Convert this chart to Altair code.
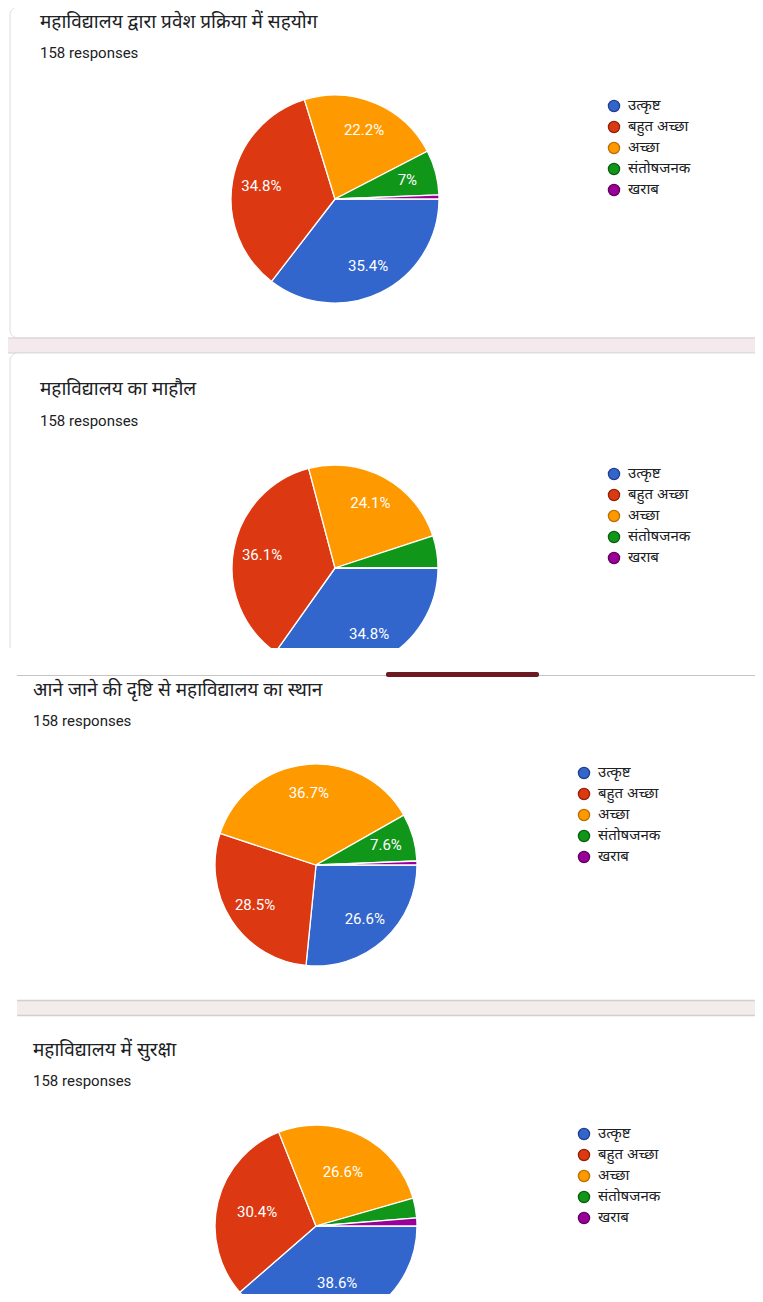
import math
import altair as alt
import pandas as pd

# ---------------- data ----------------
categories = ["उत्कृष्ट", "बहुत अच्छा", "अच्छा", "संतोषजनक", "खराब"]
colors = ["#3366cc", "#dc3912", "#ff9900", "#109618", "#990099"]
dark_colors = ["#1f3f8a", "#8f2208", "#b86e00", "#0a5e0f", "#5e005e"]

titles = [
    "महाविद्यालय द्वारा प्रवेश प्रक्रिया में सहयोग",
    "महाविद्यालय का माहौल",
    "आने जाने की दृष्टि से महाविद्यालय का स्थान",
    "महाविद्यालय  में सुरक्षा",
]
responses_text = "158 responses"
total_responses = 158

counts_1 = [56, 55, 35, 11, 1]
counts_2 = [55, 57, 38, 8, 0]
counts_3 = [42, 45, 58, 12, 1]
counts_4 = [61, 48, 42, 5, 2]

# ---------------- layout (reference pixel coords) ----------------
OFF = 8
W, H = 763 - 2 * OFF, 1302 - 2 * OFF
DEV_FONT = "Noto Sans, Lohit Devanagari, FreeSans, sans-serif"
LAT_FONT = "Roboto, Arial, sans-serif"


def X(v):
    return v - OFF


def Y(v):
    return v - OFF


dummy = pd.DataFrame({"d": [0]})


def rect(x1, x2, y1, y2, fill, stroke=None, sw=1, corner=0):
    kw = dict(fill=fill)
    if stroke:
        kw.update(stroke=stroke, strokeWidth=sw)
    if corner:
        kw.update(cornerRadius=corner)
    return alt.Chart(dummy).mark_rect(**kw).encode(
        x=alt.value(X(x1)), x2=alt.value(X(x2)), y=alt.value(Y(y1)), y2=alt.value(Y(y2))
    )


def hline(x1, x2, y, color, sw=1):
    return alt.Chart(dummy).mark_rule(color=color, strokeWidth=sw).encode(
        x=alt.value(X(x1)), x2=alt.value(X(x2)), y=alt.value(Y(y))
    )


def text(s, x, y, size, font, color="#202124", weight="normal"):
    return alt.Chart(dummy).mark_text(
        text=s, align="left", baseline="middle", fontSize=size, font=font,
        color=color, fontWeight=weight,
    ).encode(x=alt.value(X(x)), y=alt.value(Y(y)))


color_scale = alt.Scale(domain=categories, range=colors)
stroke_scale = alt.Scale(domain=categories, range=dark_colors)
theta_scale = alt.Scale(domain=[0, total_responses], range=[math.pi / 2, math.pi / 2 + 2 * math.pi])


def pie(counts, cx, cy, r, label_frac=0.72):
    df = pd.DataFrame({"cat": categories, "count": counts, "idx": list(range(len(categories)))})
    base = alt.Chart(df).transform_calculate(
        pct=f"datum.count / {total_responses} * 100"
    ).transform_calculate(
        label="datum.pct >= 5.5 ? format(datum.pct, '.1~f') + '%' : ''"
    ).encode(
        theta=alt.Theta("count:Q", stack=True, scale=theta_scale),
        order=alt.Order("idx:Q", sort="ascending"),
        x=alt.value(X(cx)),
        y=alt.value(Y(cy)),
    )
    arcs = base.mark_arc(outerRadius=r, stroke="white", strokeWidth=1.3).encode(
        color=alt.Color("cat:N", scale=color_scale, legend=None)
    )
    labels = base.mark_text(
        radius=r * label_frac, fontSize=15, font=LAT_FONT, color="white"
    ).encode(text="label:N")
    return [arcs, labels]


def legend(lx, ly0, step=21):
    df = pd.DataFrame({"cat": categories, "idx": list(range(len(categories)))})
    base = alt.Chart(df).transform_calculate(
        ly=f"{Y(ly0)} + datum.idx * {step}"
    )
    dots = base.mark_point(filled=True, size=125, opacity=1, strokeWidth=1.3).encode(
        x=alt.value(X(lx)),
        y=alt.Y("ly:Q", scale=None),
        fill=alt.Fill("cat:N", scale=color_scale, legend=None),
        stroke=alt.Stroke("cat:N", scale=stroke_scale, legend=None),
    )
    labels = base.mark_text(
        align="left", baseline="middle", fontSize=15, font=DEV_FONT, color="#202124", dy=-1
    ).encode(
        x=alt.value(X(lx + 14)),
        y=alt.Y("ly:Q", scale=None),
        text="cat:N",
    )
    return [dots, labels]


layers = []
# panel 1 card
layers.append(rect(0, 800, 0, 8, "#f5f5f6"))
layers.append(rect(10, 820, 7, 338, "white", stroke="#dadce0", corner=8))
# gap 1/2
layers.append(rect(0, 800, 338, 353, "#f4eaee"))
layers.append(hline(0, 800, 338, "#d4d0d2"))
layers.append(hline(0, 800, 353, "#d4d0d2"))
# panel 2 card
layers.append(rect(10, 820, 353, 700, "white", stroke="#dadce0", corner=8))

layers.append(text(titles[0], 40, 22, 19, DEV_FONT))
layers.append(text(responses_text, 40, 53, 15, LAT_FONT))
layers += pie(counts_1, 335, 199, 104)
layers += legend(614, 106)

layers.append(text(titles[1], 40, 389, 19, DEV_FONT))
layers.append(text(responses_text, 40, 421, 15, LAT_FONT))
layers += pie(counts_2, 335, 568, 103)
layers += legend(614, 474)

# crop of panel 2 and start of panel 3
layers.append(rect(0, 800, 648, 1000, "white"))
layers.append(hline(17, 800, 675.5, "#c4c4c4", 1.2))
layers.append(rect(386, 539, 672, 677, "#6e1a22", corner=2))

layers.append(text(titles[2], 33, 690, 19, DEV_FONT))
layers.append(text(responses_text, 33, 721, 15, LAT_FONT))
layers += pie(counts_3, 316, 865, 101)
layers += legend(584, 773)

# gap 3/4
layers.append(rect(17, 800, 1000, 1016, "#f2ecec"))
layers.append(hline(17, 800, 1000.5, "#d0d0d0", 1.5))
layers.append(hline(17, 800, 1015.5, "#cfcfcf", 1.5))

layers.append(text(titles[3], 33, 1050, 19, DEV_FONT))
layers.append(text(responses_text, 33, 1081, 15, LAT_FONT))
layers += pie(counts_4, 316, 1226, 101, label_frac=0.6)
layers += legend(584, 1134)

chart = alt.layer(*layers).properties(
    width=W, height=H, padding=0, autosize=alt.AutoSizeParams(type="none"),
    background="white",
).configure_view(stroke=None)

chart.save("out.html", embed_options={"renderer": "svg", "actions": False})
